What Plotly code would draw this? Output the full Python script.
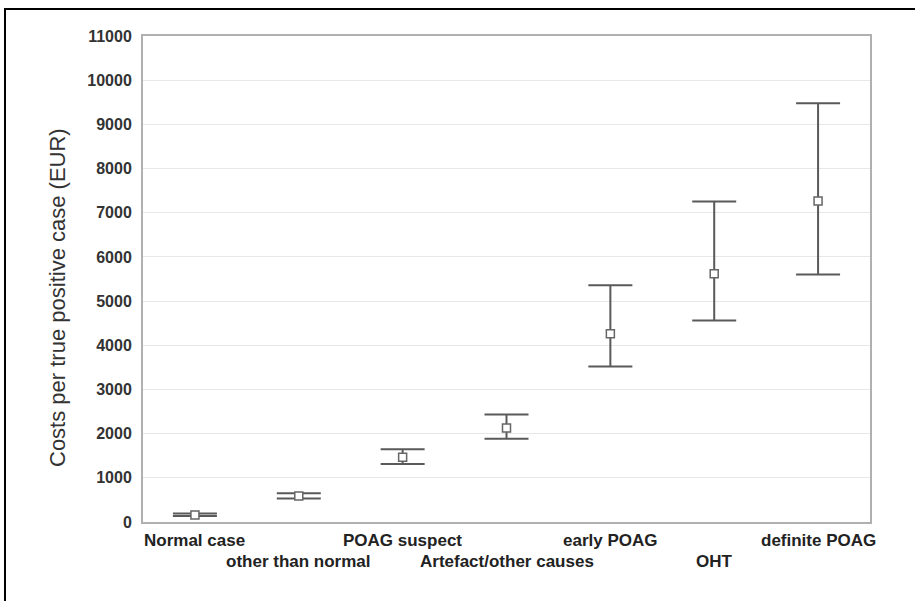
import plotly.graph_objects as go

categories = ["Normal case", "other than normal", "POAG suspect", "Artefact/other causes",
              "early POAG", "OHT", "definite POAG"]
mean_costs = [160, 590, 1467, 2125, 4263, 5617, 7263]
upper_ci = [190, 650, 1648, 2433, 5358, 7256, 9478]
lower_ci = [135, 530, 1315, 1882, 3522, 4558, 5601]
y_ticks = list(range(0, 11001, 1000))

x_pos = list(range(len(categories)))
err_plus = [u - m for u, m in zip(upper_ci, mean_costs)]
err_minus = [m - l for m, l in zip(mean_costs, lower_ci)]

fig = go.Figure()
fig.add_trace(go.Scatter(
    x=x_pos, y=mean_costs, mode="markers",
    marker=dict(symbol="square", size=8, color="white",
                line=dict(color="#666666", width=1.5)),
    error_y=dict(type="data", symmetric=False, array=err_plus, arrayminus=err_minus,
                 color="#5a5a5a", thickness=2, width=22),
    showlegend=False,
))

L, R, T, B = 143, 45, 36, 79
W, H = 915, 601
pw, ph = W - L - R, H - T - B

annotations = []
for i, c in enumerate(categories):
    row = i % 2
    ypix = 540 if row == 0 else 561
    annotations.append(dict(
        x=i, xref="x", y=(522 - ypix) / ph, yref="paper",
        text=c, showarrow=False, xanchor="center", yanchor="middle",
        font=dict(family="Liberation Sans, Arial", size=17, color="#222222", weight="bold"),
    ))
annotations.append(dict(
    x=(57 - L) / pw, xref="paper", y=(522 - 298) / ph, yref="paper",
    text="Costs per true positive case (EUR)", textangle=-90, showarrow=False,
    xanchor="center", yanchor="middle",
    font=dict(family="Liberation Sans, Arial", size=22, color="#333333"),
))

fig.update_layout(
    width=W, height=H,
    margin=dict(l=L, r=R, t=T, b=B),
    paper_bgcolor="white", plot_bgcolor="white",
    xaxis=dict(range=[-0.5, 6.5], showticklabels=False, showgrid=False, zeroline=False,
               showline=True, linecolor="#b0b0b0", linewidth=2, mirror=True, ticks=""),
    yaxis=dict(range=[0, 11000], tickvals=y_ticks, ticktext=[str(v) for v in y_ticks],
               showgrid=True, gridcolor="#e8e8e8", gridwidth=1, zeroline=False,
               showline=True, linecolor="#b0b0b0", linewidth=2, mirror=True, ticks="",
               ticklabelstandoff=6,
               tickfont=dict(family="Liberation Sans, Arial", size=16, color="#333333", weight="bold")),
    annotations=annotations,
    shapes=[dict(type="rect", xref="paper", yref="paper",
                 x0=(5 - L) / pw, x1=1.2, y0=-0.3, y1=(522 - 9) / ph,
                 line=dict(color="black", width=2), fillcolor="rgba(0,0,0,0)")],
)

fig.write_html("out.html", config={"displayModeBar": False},
               post_script="document.body.style.margin='0';")
